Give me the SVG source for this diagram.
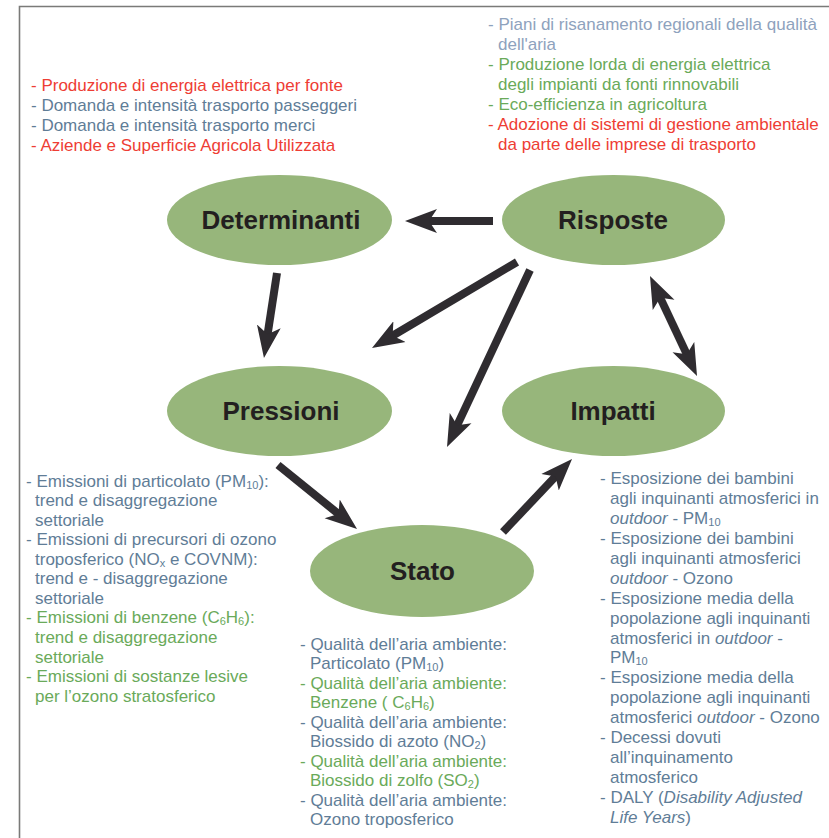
<svg xmlns="http://www.w3.org/2000/svg" width="829" height="838" viewBox="0 0 829 838">
<style>
text{font-family:"Liberation Sans",Arial,sans-serif;font-size:17px}
.b{fill:#5f7d97}.g{fill:#6aaa5a}.r{fill:#ee3d34}.l{fill:#8ea2bd}
.node ellipse{fill:#97b67b}
.node text{font-size:26px;font-weight:bold;fill:#231f20;text-anchor:middle}
.sub{font-size:11px}
.it{font-style:italic}
.conn line{stroke:#2f2c30;stroke-width:8;fill:none}
</style>
<defs>
<marker id="ah" viewBox="0 0 32 26" markerUnits="userSpaceOnUse" markerWidth="32" markerHeight="26" refX="12" refY="13" orient="auto-start-reverse">
<path d="M0,1 L32,13 L0,25 L8,13 Z" fill="#2f2c30"/>
</marker>
</defs>
<rect width="829" height="838" fill="#fff"/>
<path d="M19.5,838 V6.5 H829" fill="none" stroke="#7a7a78" stroke-width="1.6"/>

<g id="text-determinanti">
<text x="31" y="91" class="r">- Produzione di energia elettrica per fonte</text>
<text x="31" y="111" class="b">- Domanda e intensità trasporto passeggeri</text>
<text x="31" y="131" class="b">- Domanda e intensità trasporto merci</text>
<text x="31" y="151" class="r">- Aziende e Superficie Agricola Utilizzata</text>
</g>
<g id="text-risposte">
<text x="488" y="30" class="l">- Piani di risanamento regionali della qualità</text>
<text x="498" y="50" class="l">dell'aria</text>
<text x="488" y="70" class="g">- Produzione lorda di energia elettrica</text>
<text x="498" y="90" class="g">degli impianti da fonti rinnovabili</text>
<text x="488" y="110" class="g">- Eco-efficienza in agricoltura</text>
<text x="488" y="130" class="r">- Adozione di sistemi di gestione ambientale</text>
<text x="498" y="150" class="r">da parte delle imprese di trasporto</text>
</g>
<g id="text-pressioni">
<text x="26" y="486.5" class="b">- Emissioni di particolato (PM<tspan class="sub" dy="2">10</tspan><tspan dy="-2">):</tspan></text>
<text x="35" y="506" class="b">trend e disaggregazione</text>
<text x="35" y="525.6" class="b">settoriale</text>
<text x="26" y="545.2" class="b">- Emissioni di precursori di ozono</text>
<text x="35" y="564.7" class="b">troposferico (NO<tspan class="sub" dy="2">x</tspan><tspan dy="-2"> e COVNM):</tspan></text>
<text x="35" y="584.3" class="b">trend e - disaggregazione</text>
<text x="35" y="603.8" class="b">settoriale</text>
<text x="26" y="623.4" class="g">- Emissioni di benzene (C<tspan class="sub" dy="2">6</tspan><tspan dy="-2">H</tspan><tspan class="sub" dy="2">6</tspan><tspan dy="-2">):</tspan></text>
<text x="35" y="642.9" class="g">trend e disaggregazione</text>
<text x="35" y="662.5" class="g">settoriale</text>
<text x="26" y="682" class="g">- Emissioni di sostanze lesive</text>
<text x="35" y="701.6" class="g">per l’ozono stratosferico</text>
</g>
<g id="text-stato">
<text x="300" y="650" class="b">- Qualità dell’aria ambiente:</text>
<text x="310" y="669.4" class="b">Particolato (PM<tspan class="sub" dy="2">10</tspan><tspan dy="-2">)</tspan></text>
<text x="300" y="688.9" class="g">- Qualità dell’aria ambiente:</text>
<text x="310" y="708.3" class="g">Benzene ( C<tspan class="sub" dy="2">6</tspan><tspan dy="-2">H</tspan><tspan class="sub" dy="2">6</tspan><tspan dy="-2">)</tspan></text>
<text x="300" y="727.8" class="b">- Qualità dell’aria ambiente:</text>
<text x="310" y="747.2" class="b">Biossido di azoto (NO<tspan class="sub" dy="2">2</tspan><tspan dy="-2">)</tspan></text>
<text x="300" y="766.7" class="g">- Qualità dell’aria ambiente:</text>
<text x="310" y="786.1" class="g">Biossido di zolfo (SO<tspan class="sub" dy="2">2</tspan><tspan dy="-2">)</tspan></text>
<text x="300" y="805.6" class="b">- Qualità dell’aria ambiente:</text>
<text x="310" y="825" class="b">Ozono troposferico</text>
</g>
<g id="text-impatti" class="b">
<text x="600" y="484.3" class="b">- Esposizione dei bambini</text>
<text x="610" y="504.2" class="b">agli inquinanti atmosferici in</text>
<text x="610" y="524.1" class="b"><tspan class="it">outdoor</tspan> - PM<tspan class="sub" dy="2">10</tspan></text>
<text x="600" y="544" class="b">- Esposizione dei bambini</text>
<text x="610" y="563.9" class="b">agli inquinanti atmosferici</text>
<text x="610" y="583.8" class="b"><tspan class="it">outdoor</tspan> - Ozono</text>
<text x="600" y="603.7" class="b">- Esposizione media della</text>
<text x="610" y="623.6" class="b">popolazione agli inquinanti</text>
<text x="610" y="643.5" class="b">atmosferici in <tspan class="it">outdoor</tspan> -</text>
<text x="610" y="663.4" class="b">PM<tspan class="sub" dy="2">10</tspan></text>
<text x="600" y="683.3" class="b">- Esposizione media della</text>
<text x="610" y="703.2" class="b">popolazione agli inquinanti</text>
<text x="610" y="723.1" class="b">atmosferici <tspan class="it">outdoor</tspan> - Ozono</text>
<text x="600" y="743" class="b">- Decessi dovuti</text>
<text x="610" y="762.9" class="b">all’inquinamento</text>
<text x="610" y="782.8" class="b">atmosferico</text>
<text x="600" y="802.7" class="b">- DALY (<tspan class="it">Disability Adjusted</tspan></text>
<text x="610" y="822.6" class="b"><tspan class="it">Life Years</tspan>)</text>
</g>

<g id="node-determinanti" class="node">
<ellipse cx="279.5" cy="220" rx="112.5" ry="45"/>
<text x="281" y="229">Determinanti</text>
</g>
<g id="node-risposte" class="node">
<ellipse cx="613.5" cy="220" rx="111.5" ry="45"/>
<text x="613" y="229">Risposte</text>
</g>
<g id="node-pressioni" class="node">
<ellipse cx="279.5" cy="411" rx="112.5" ry="45"/>
<text x="281" y="420">Pressioni</text>
</g>
<g id="node-impatti" class="node">
<ellipse cx="613.5" cy="411" rx="111.5" ry="45"/>
<text x="613" y="420">Impatti</text>
</g>
<g id="node-stato" class="node">
<ellipse cx="422" cy="571" rx="112" ry="46"/>
<text x="422.5" y="580">Stato</text>
</g>

<g id="connectors" class="conn">
<line x1="493" y1="221" x2="425" y2="221" marker-end="url(#ah)"/>
<line x1="277" y1="273" x2="267" y2="338.2" marker-end="url(#ah)"/>
<line x1="517" y1="262" x2="389.2" y2="337.8" marker-end="url(#ah)"/>
<line x1="530" y1="270" x2="455.5" y2="428.9" marker-end="url(#ah)"/>
<line x1="658.5" y1="294.1" x2="688.5" y2="357.9" marker-start="url(#ah)" marker-end="url(#ah)"/>
<line x1="278" y1="465" x2="341.5" y2="516.4" marker-end="url(#ah)"/>
<line x1="503" y1="532" x2="558.3" y2="473.5" marker-end="url(#ah)"/>
</g>
</svg>
